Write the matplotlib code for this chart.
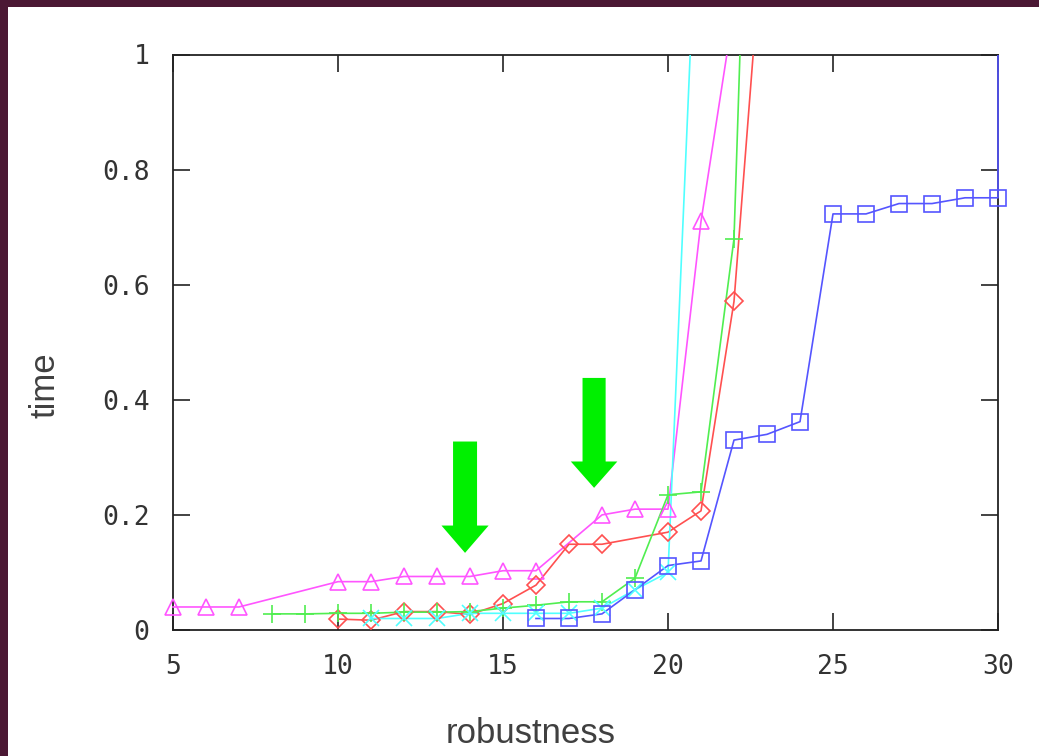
import numpy as np
import matplotlib
matplotlib.use("Agg")
import matplotlib.pyplot as plt
from matplotlib.patches import FancyArrow, Rectangle

# robustness (x) vs time (y), one list pair per series
tri_x = [5, 6, 7, 10, 11, 12, 13, 14, 15, 16, 18, 19, 20, 21, 22]
tri_y = [0.04, 0.04, 0.04, 0.084, 0.084, 0.093, 0.093, 0.093, 0.103, 0.103,
         0.20, 0.21, 0.21, 0.71, 1.08]

dia_x = [10, 11, 12, 13, 14, 15, 16, 17, 18, 20, 21, 22, 23]
dia_y = [0.019, 0.017, 0.032, 0.032, 0.027, 0.046, 0.078, 0.149, 0.149,
         0.17, 0.207, 0.571, 1.31]

plus_x = [8, 9, 10, 11, 12, 13, 14, 15, 16, 17, 18, 19, 20, 21, 22, 23]
plus_y = [0.028, 0.028, 0.029, 0.029, 0.031, 0.031, 0.032, 0.038, 0.043,
          0.049, 0.049, 0.09, 0.235, 0.24, 0.68, 2.46]

cross_x = [11, 12, 13, 14, 15, 16, 17, 18, 19, 20, 21]
cross_y = [0.02, 0.02, 0.02, 0.029, 0.029, 0.029, 0.029, 0.038, 0.07, 0.10, 1.44]

box_x = [16, 17, 18, 19, 20, 21, 22, 23, 24, 25, 26, 27, 28, 29, 30, 30]
box_y = [0.02, 0.02, 0.028, 0.07, 0.112, 0.12, 0.33, 0.34, 0.362, 0.723,
         0.723, 0.741, 0.741, 0.751, 0.751, 1.2]

x_ticks = [5, 10, 15, 20, 25, 30]
y_ticks = [0, 0.2, 0.4, 0.6, 0.8, 1]
y_ticklabels = ["0", "0.2", "0.4", "0.6", "0.8", "1"]

# marker, colour, marker size
series = [
    (tri_x, tri_y, "^", "#ff55ff", 11),
    (dia_x, dia_y, "D", "#ff5050", 9),
    (plus_x, plus_y, "+", "#50ee50", 13),
    (cross_x, cross_y, "x", "#50ffff", 11),
    (box_x, box_y, "s", "#5555ff", 11),
]

W, H = 1039, 756
fig = plt.figure(figsize=(W / 100, H / 100), dpi=100)
fig.patch.set_facecolor("#4b1834")
# white page inside the dark frame (frame only on top and left)
fig.patches.append(Rectangle((8 / W, 0), 1, (H - 7) / H, transform=fig.transFigure,
                             facecolor="white", edgecolor="none", zorder=-10))

ax = fig.add_axes([173 / W, 126 / H, 825 / W, 575.5 / H])
ax.set_zorder(5)
ax.set_facecolor("white")

# clip only at top/bottom, leave a hair of room at the right border
clip_box = Rectangle((-0.003, 0), 1.006, 1, transform=ax.transAxes,
                     facecolor="none", edgecolor="none")

for xs, ys, mk, col, ms in series:
    xs = np.array(xs, dtype=float)
    ys = np.array(ys, dtype=float)
    line, = ax.plot(xs, ys, "-", color=col, lw=1.2, zorder=3)
    line.set_clip_path(clip_box)
    inside = ys <= 1.0
    ax.plot(xs[inside], ys[inside], ls="none", marker=mk, markersize=ms,
            markerfacecolor="none", markeredgecolor=col, markeredgewidth=1.2,
            clip_on=False, zorder=4)

# the two green arrows
arrow_kw = dict(color="#00f000", length_includes_head=True, zorder=6, lw=0)
ax.add_patch(FancyArrow(13.85, 0.3275, 0, 0.134 - 0.3275, width=0.727,
                        head_width=1.43, head_length=0.0475, **arrow_kw))
ax.add_patch(FancyArrow(17.76, 0.438, 0, 0.247 - 0.438, width=0.70,
                        head_width=1.41, head_length=0.0458, **arrow_kw))

ax.set_xlim(5, 30)
ax.set_ylim(0, 1)
ax.set_xticks(x_ticks)
ax.set_xticklabels([str(t) for t in x_ticks])
ax.set_yticks(y_ticks)
ax.set_yticklabels(y_ticklabels)

for s in ax.spines.values():
    s.set_linewidth(1.3)
    s.set_color("#222222")
    s.set_zorder(2)
ax.tick_params(direction="in", length=12, width=1.2, color="#222222",
               top=True, right=True, labelsize=19, pad=17)
for lab in ax.get_xticklabels() + ax.get_yticklabels():
    lab.set_family("DejaVu Sans Mono")
    lab.set_color("#333333")

fig.text(531 / W, 13 / H, "robustness", ha="center", va="baseline",
         fontsize=25, color="#404040", family="Liberation Sans")
fig.text(45 / W, (H - 385) / H, "time", ha="center", va="center", rotation=90,
         fontsize=25, color="#404040", family="Liberation Sans")

fig.savefig("out.png", dpi=100, facecolor=fig.get_facecolor())
